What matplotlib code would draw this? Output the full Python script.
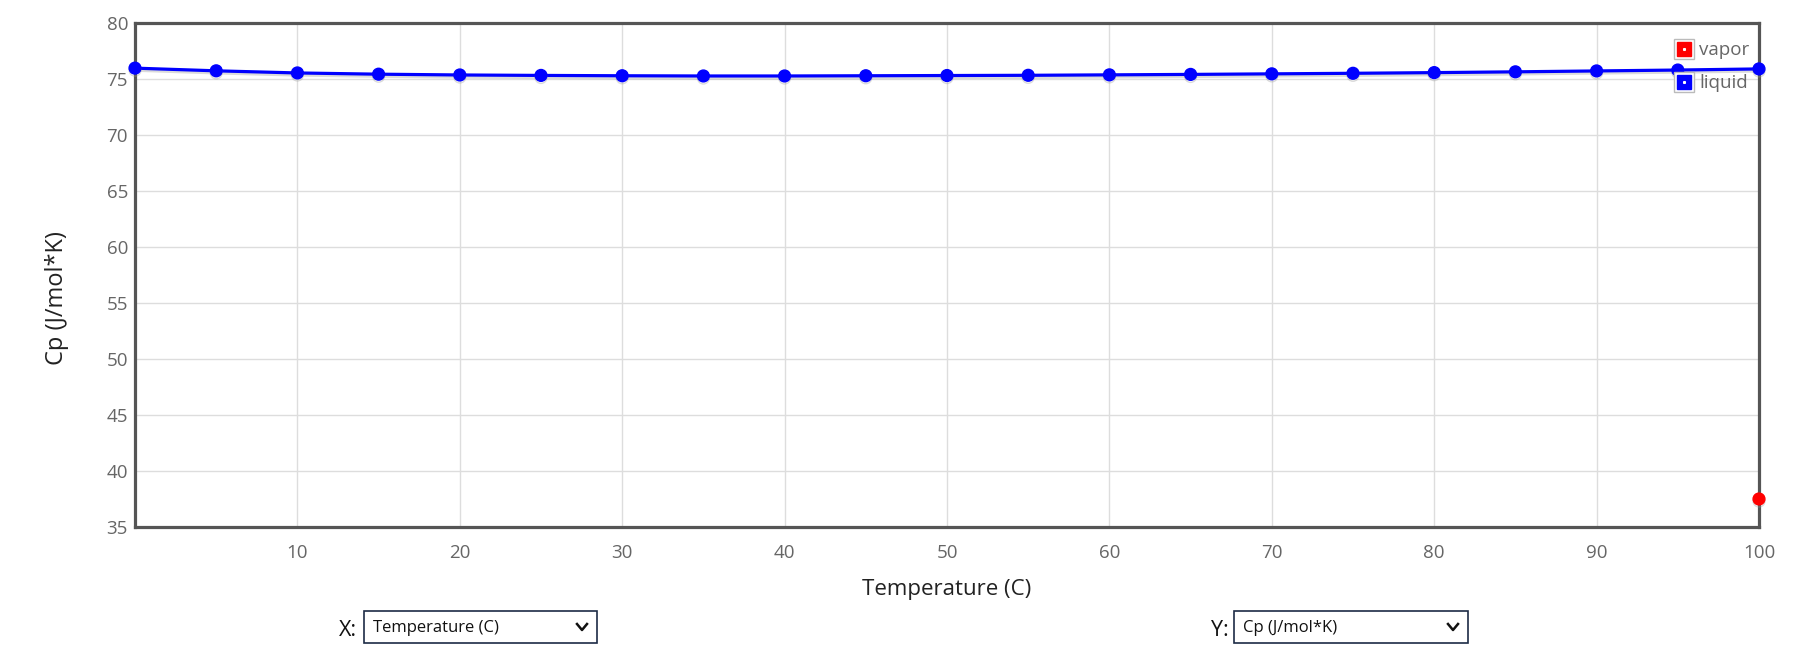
import matplotlib
matplotlib.use('Agg')
import matplotlib.pyplot as plt
import matplotlib.patheffects as pe
from matplotlib.lines import Line2D
from matplotlib.patches import Rectangle

plt.rcParams['font.family'] = ['Open Sans', 'DejaVu Sans']

# data
temps = [0, 5, 10, 15, 20, 25, 30, 35, 40, 45, 50, 55, 60, 65, 70, 75, 80, 85, 90, 95, 100]
cp_liquid = [75.97, 75.73, 75.54, 75.43, 75.36, 75.32, 75.29, 75.27, 75.27, 75.29, 75.31,
             75.33, 75.37, 75.41, 75.46, 75.51, 75.57, 75.64, 75.72, 75.80, 75.90]
vapor_t = [100]
cp_vapor = [37.5]
xticks = [10, 20, 30, 40, 50, 60, 70, 80, 90, 100]
yticks = [35, 40, 45, 50, 55, 60, 65, 70, 75, 80]

W, H = 1807, 654
fig = plt.figure(figsize=(W / 100, H / 100), dpi=100)
ax = fig.add_axes([135 / W, (H - 527) / H, 1624 / W, 504 / H])

shadow = [pe.SimpleLineShadow(offset=(0, -1.5), shadow_color='#999999', alpha=0.35), pe.Normal()]
ax.plot(temps, cp_liquid, color='#0000ff', lw=2.3, marker='o', ms=8.5, clip_on=False,
        zorder=3, path_effects=shadow)
ax.plot(vapor_t, cp_vapor, color='#ff0000', lw=2.3, marker='o', ms=8.5, clip_on=False,
        zorder=3, path_effects=shadow)

ax.set_xlim(0, 100)
ax.set_ylim(35, 80)
ax.set_xticks(xticks)
ax.set_yticks(yticks)
ax.grid(True, color='#dddddd', lw=1)
ax.set_axisbelow(True)
for s in ax.spines.values():
    s.set_color('#555555')
    s.set_linewidth(2.3)
ax.tick_params(length=0, labelsize=13.5, labelcolor='#666666')
ax.tick_params(axis='x', pad=12)
ax.tick_params(axis='y', pad=5)
ax.set_xlabel('Temperature (C)', fontsize=16, color='#222222')
ax.set_ylabel('Cp (J/mol*K)', fontsize=17, color='#222222')
ax.xaxis.set_label_coords(0.5, -(589 - 527) / 504)
ax.yaxis.set_label_coords(-(135 - 57) / 1624, (527 - 298) / 504)
ax.xaxis.label.set_va('center')
ax.yaxis.label.set_va('center')

# legend: grey-framed coloured square with small white dot
def handle(c):
    frame = Line2D([], [], ls='none', marker='s', ms=14, mfc='white', mec='#bbbbbb', mew=1)
    sq = Line2D([], [], ls='none', marker='s', ms=10.5, mfc=c, mec=c)
    dot = Line2D([], [], ls='none', marker='s', ms=1.2, mfc='white', mec='white')
    return (frame, sq, dot)

leg = ax.legend([handle('#ff0000'), handle('#0000ff')], ['vapor', 'liquid'],
                loc='upper right', bbox_to_anchor=(1759 / W, (H - 32) / H),
                bbox_transform=fig.transFigure, frameon=False, fontsize=13.5,
                handlelength=0.9, handletextpad=0.35, labelspacing=0.8, borderpad=0)
for t in leg.get_texts():
    t.set_color('#666666')

# dropdown selectors under the chart
def dropdown(lbl_x, x0, x1, label, value):
    y0, y1 = 611, 643
    fig.text(lbl_x / W, 1 - 630 / H, label, fontsize=15.5, color='#111111', va='center', ha='left')
    fig.add_artist(Rectangle((x0 / W, 1 - y1 / H), (x1 - x0) / W, (y1 - y0) / H,
                             transform=fig.transFigure, fill=False, ec='#1c2b45', lw=1.2))
    fig.text((x0 + 9) / W, 1 - 628 / H, value, fontsize=12, color='#111111', va='center', ha='left')
    cx = x1 - 15
    fig.add_artist(Line2D([(cx - 5) / W, cx / W, (cx + 5) / W],
                          [1 - 624 / H, 1 - 630 / H, 1 - 624 / H],
                          transform=fig.transFigure, color='#111111', lw=1.8))

dropdown(339, 364, 597, 'X:', 'Temperature (C)')
dropdown(1211, 1234, 1468, 'Y:', 'Cp (J/mol*K)')

fig.savefig('out.png', dpi=100)
